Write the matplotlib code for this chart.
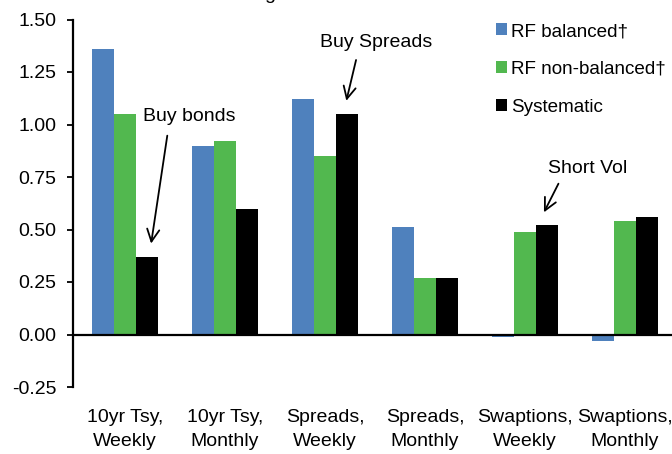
import numpy as np
import matplotlib
matplotlib.use('Agg')
import matplotlib.pyplot as plt

plt.rcParams['font.family'] = ['Liberation Sans', 'DejaVu Sans']

# Daten
categories = ['10yr Tsy,\nWeekly', '10yr Tsy,\nMonthly', 'Spreads,\nWeekly',
              'Spreads,\nMonthly', 'Swaptions,\nWeekly', 'Swaptions,\nMonthly']
rf_balanced = [1.36, 0.90, 1.12, 0.51, -0.01, -0.03]
rf_non_balanced = [1.05, 0.92, 0.85, 0.27, 0.49, 0.54]
systematic = [0.37, 0.60, 1.05, 0.27, 0.52, 0.56]
series_names = ['RF balanced†', 'RF non-balanced†', 'Systematic']
yticks = [-0.25, 0.00, 0.25, 0.50, 0.75, 1.00, 1.25, 1.50]

# (Kategorie, Text, Textposition relativ zum Balken, Pfeilanfang relativ, Pfeilspitze dx)
notes = [(0, 'Buy bonds', (0.43, 0.67), (0.21, 0.59), 0.04),
         (2, 'Buy Spreads', (0.29, 0.34), (0.10, 0.27), -0.01),
         (4, 'Short Vol', (0.41, 0.27), (0.13, 0.21), -0.04)]

colors = ['#4F81BD', '#52B84F', '#000000']
fs = 14

fig = plt.figure(figsize=(6.72, 4.54), dpi=100)
ax = fig.add_axes([73/672, 1 - 387/454, (672 - 73)/672, (387 - 19.5)/454])

x = np.arange(len(categories))
w = 0.217
for k, vals in enumerate([rf_balanced, rf_non_balanced, systematic]):
    ax.bar(x + (k - 1)*w, vals, width=w, color=colors[k], label=series_names[k])

ax.axhline(0, color='black', lw=1.6, zorder=3)

ax.set_xlim(-0.52, 5.47)
ax.set_ylim(-0.25, 1.5)
ax.set_yticks(yticks)
ax.set_yticklabels([f'{v:.2f}' for v in yticks], fontsize=fs)
ax.set_xticks(x)
ax.set_xticklabels(categories, fontsize=fs, linespacing=1.55)
ax.tick_params(axis='x', length=0, pad=16)
ax.tick_params(axis='y', length=4, width=1.3, pad=8, direction='out')

for s in ['top', 'right', 'bottom']:
    ax.spines[s].set_visible(False)
ax.spines['left'].set_linewidth(1.6)

# Pfeile mit Beschriftung
for i, txt, tpos, tail, tipdx in notes:
    bx = i + w
    by = systematic[i]
    ax.annotate('', xy=(bx + tipdx, by + 0.05), xytext=(bx + tail[0], by + tail[1]),
                arrowprops=dict(arrowstyle='->', lw=1.3, color='black', mutation_scale=22))
    ax.text(bx + tpos[0], by + tpos[1], txt, fontsize=fs, ha='center', va='center')

ax.legend(loc='upper left', bbox_to_anchor=(496/672, 1 - 23/454),
          bbox_transform=fig.transFigure, frameon=False, fontsize=13.6,
          handlelength=0.6, handleheight=0.6, handletextpad=0.2,
          labelspacing=1.1, borderaxespad=0, borderpad=0)

# abgeschnittener Titel oben
fig.text(270/672, 1 + 1/454, 'g', fontsize=fs, ha='center', va='baseline')

plt.savefig('out.png', dpi=100)
